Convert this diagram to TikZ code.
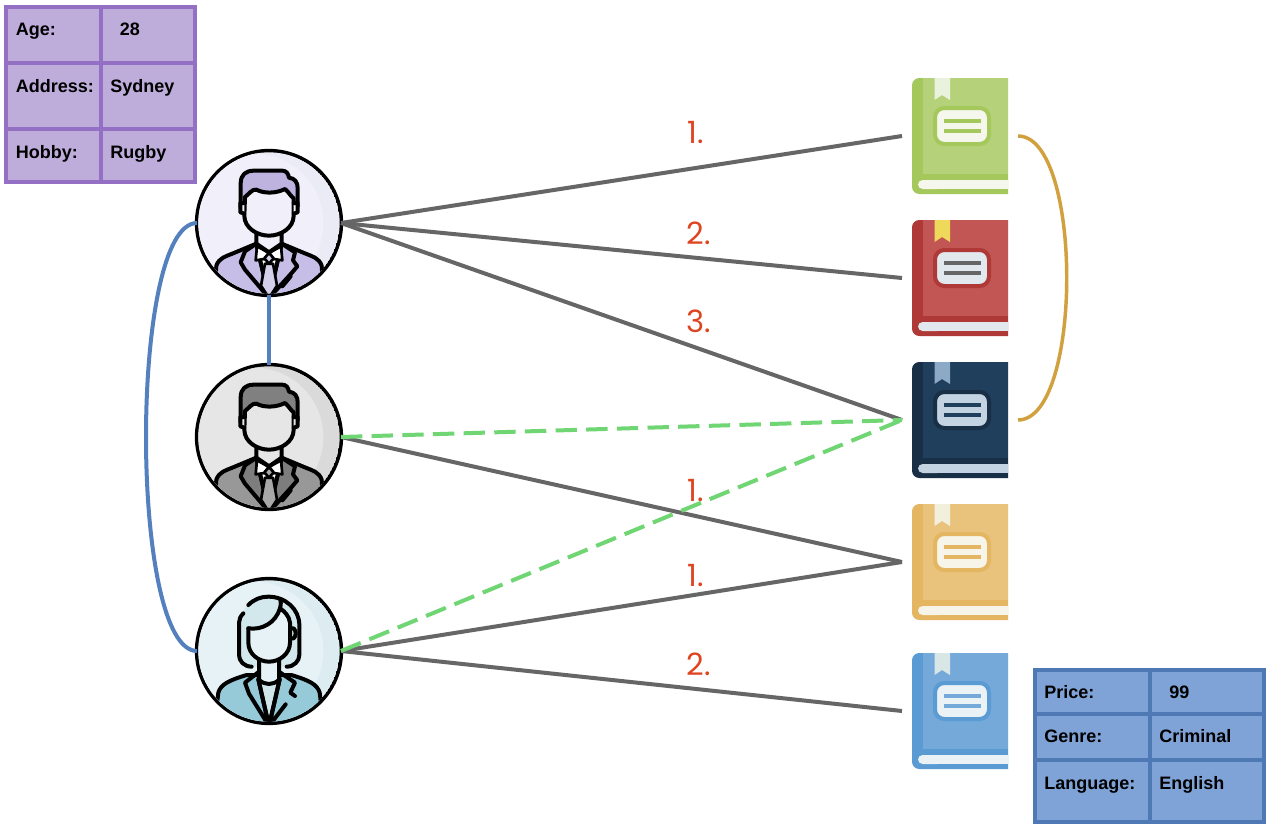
\documentclass[tikz,border=0pt]{standalone}
\usepackage{fontspec}
\setmainfont{Liberation Sans}
\newfontfamily\numfont{Poppins}
\definecolor{greyline}{HTML}{666666}
\definecolor{greenline}{HTML}{70D673}
\definecolor{blueline}{HTML}{5480BE}
\definecolor{goldline}{HTML}{D1A13F}
\definecolor{numred}{HTML}{DF4420}
\definecolor{tpstroke}{HTML}{9470C4}
\definecolor{tpfill}{HTML}{BEADDB}
\definecolor{tbstroke}{HTML}{4E79B5}
\definecolor{tbfill}{HTML}{7FA3D7}
% book colours
\definecolor{gc}{HTML}{B5D27A}\definecolor{gd}{HTML}{A5C85C}\definecolor{gr}{HTML}{E8F2DC}\definecolor{gl}{HTML}{F5F6EC}
\definecolor{rc}{HTML}{C15654}\definecolor{rd}{HTML}{AF3936}\definecolor{rr}{HTML}{EFD95A}\definecolor{rl}{HTML}{E1E9EF}
\definecolor{nc}{HTML}{1F3F5C}\definecolor{nd}{HTML}{182F45}\definecolor{nr}{HTML}{8CA9C5}\definecolor{nl}{HTML}{C3D3E2}
\definecolor{oc}{HTML}{E9C37C}\definecolor{od}{HTML}{E5B662}\definecolor{or}{HTML}{F3EFDD}\definecolor{ol}{HTML}{F7F5E9}
\definecolor{bc}{HTML}{74A9DA}\definecolor{bd}{HTML}{5A9BD3}\definecolor{br}{HTML}{D9E6E6}\definecolor{bl}{HTML}{EAF2F6}
% people colours
\definecolor{abg}{HTML}{F1F0FA}\definecolor{ash}{HTML}{EBEBF5}\definecolor{ahair}{HTML}{BEB2DE}\definecolor{ajac}{HTML}{C6BEE6}\definecolor{alap}{HTML}{C6BEE6}\definecolor{atie}{HTML}{D5D0EA}
\definecolor{cbg}{HTML}{E6E6E6}\definecolor{csh}{HTML}{DADADA}\definecolor{chair}{HTML}{808080}\definecolor{cjac}{HTML}{989898}\definecolor{clap}{HTML}{7D7D7D}\definecolor{ctie}{HTML}{A8A8A8}
\definecolor{wbg}{HTML}{E6F2F5}\definecolor{wsh}{HTML}{DCECF1}\definecolor{whair}{HTML}{D3E8EC}\definecolor{wjac}{HTML}{97CAD9}\definecolor{wblo}{HTML}{CFE5EA}\definecolor{wfri}{HTML}{D6E8EE}
\tikzset{
  person/.style={circle,draw=black,line width=3.2pt,minimum size=108pt,inner sep=0pt,outer sep=0pt},
  bookslot/.style={rectangle,minimum width=87pt,minimum height=87pt,inner sep=0pt,outer sep=0pt},
  conn/.style={draw=greyline,line width=3pt},
  rel/.style={draw=greenline,line width=3pt,dash pattern=on 16pt off 7pt},
  blink/.style={draw=blueline,line width=3pt},
  glink/.style={draw=goldline,line width=2.6pt},
  num/.style={text=numred,font=\numfont\fontsize{23}{23}\selectfont,inner sep=0pt},
  cell/.style={anchor=base west,inner sep=0pt,font=\fontsize{13.5}{15}\selectfont\bfseries},
  icon/.style={draw=black,line width=3pt,line join=round,line cap=round},
  thinicon/.style={draw=black,line width=2pt,line join=round,line cap=round},
}
\newcommand{\crescent}[2]{%
  \fill[#2] (0,0) circle (212);
  \fill[#1] (-45,0) circle (208);
}
\newcommand{\drawman}[7]{% node, bg, shade, hair, jacket, lapel, tie
\begin{scope}[shift={(#1.center)},scale=1/3]
  \begin{scope}
  \clip (0,0) circle (212);
  \crescent{#2}{#3}
  \path[fill=#5,icon] (-165,230) -- (-158,128) .. controls (-150,105) and (-130,100) .. (-110,92) -- (-38,62) -- (38,62) -- (110,92) .. controls (130,100) and (150,105) .. (158,128) -- (165,230) -- cycle;
  \path[fill=#6,icon] (-38,62) -- (-72,85) -- (-85,118) -- (-72,140) -- (0,225) -- cycle;
  \path[fill=#6,icon] (38,62) -- (78,88) -- (72,112) -- (85,130) -- (68,150) -- (0,225) -- cycle;
  \path[fill=white,icon] (-38,62) -- (38,62) -- (0,225) -- cycle;
  \path[fill=#7,thinicon] (-12,122) -- (12,122) -- (24,188) -- (0,225) -- (-24,188) -- cycle;
  \path[fill=white,thinicon] (-36,70) -- (-40,112) -- (-14,108) -- (0,90) -- (14,108) -- (40,112) -- (36,70) -- (0,90) -- cycle;
  \path[fill=#7,thinicon] (0,90) -- (14,106) -- (0,122) -- (-14,106) -- cycle;
  \draw[icon] (40,190) -- (65,160);
  \end{scope}
  \path[fill=#2,icon] (-38,20) -- (-38,62) -- (0,88) -- (38,62) -- (38,20) -- cycle;
  \path[fill=#4,icon] (-85,-45) -- (-85,-118) .. controls (-85,-145) and (-70,-157) .. (-45,-157) -- (40,-157) .. controls (52,-157) and (58,-148) .. (60,-136) .. controls (78,-134) and (86,-122) .. (86,-105) -- (86,-50) -- cycle;
  \path[fill=#2,icon] (-72,-78) .. controls (-62,-85) and (-50,-103) .. (-38,-100) .. controls (-15,-88) and (20,-88) .. (48,-102) .. controls (60,-92) and (65,-80) .. (74,-74) -- (74,-22) .. controls (74,15) and (35,38) .. (0,38) .. controls (-35,38) and (-74,15) .. (-74,-22) -- cycle;
  \path[fill=#2,icon] (-74,-60) -- (-86,-60) -- (-86,-32) -- (-74,-28);
  \path[fill=#2,icon] (74,-60) -- (86,-60) -- (86,-32) -- (74,-28);
\end{scope}}
\newcommand{\drawwoman}[7]{% node, bg, shade, hair, jacket, blouse, fringe
\begin{scope}[shift={(#1.center)},scale=1/3]
  \begin{scope}
  \clip (0,0) circle (212);
  \crescent{#2}{#3}
  \fill[#4] (-90,12) -- (-90,-88) .. controls (-80,-130) and (-45,-163) .. (-2,-163) .. controls (50,-163) and (91,-125) .. (91,-78) -- (91,12) .. controls (91,30) and (75,47) .. (53,47) -- (-52,47) .. controls (-75,47) and (-90,30) .. (-90,12) -- cycle;
  \draw[icon] (-77,-113) .. controls (-85,-105) and (-90,-95) .. (-90,-85) -- (-90,12) .. controls (-90,30) and (-75,47) .. (-52,47);
  \draw[icon] (-62,-138) .. controls (-45,-155) and (-25,-163) .. (-2,-163) .. controls (50,-163) and (91,-125) .. (91,-78) -- (91,12) .. controls (91,30) and (75,47) .. (53,47);
  \path[fill=#5,icon] (-165,230) -- (-152,125) .. controls (-145,100) and (-120,88) .. (-67,72) -- (67,72) .. controls (120,88) and (145,100) .. (152,125) -- (165,230) -- cycle;
  \path[fill=#6,icon] (-32,85) -- (32,85) -- (0,225) -- cycle;
  \draw[icon] (-30,62) -- (-72,95) -- (-60,128) -- (0,225) -- (-32,85);
  \draw[icon] (30,62) -- (78,95) -- (64,125) -- (78,135);
  \draw[icon] (32,85) -- (0,225) -- (50,160);
  \end{scope}
  \path[fill=#2,icon] (-30,25) -- (-30,87) .. controls (-10,103) and (10,103) .. (30,87) -- (30,25) -- cycle;
  \path[fill=#7,icon] (63,-68) -- (74,-68) .. controls (82,-60) and (82,-45) .. (74,-38) -- (63,-38);
  % face, open to the hair parting
  \fill[#2] (-62,-68) -- (-62,-25) .. controls (-62,10) and (-30,32) .. (0,32) .. controls (32,32) and (63,8) .. (63,-25) -- (63,-85) .. controls (60,-105) and (48,-118) .. (33,-128) .. controls (20,-85) and (-20,-62) .. (-62,-68) -- cycle;
  \draw[icon] (-62,-68) -- (-62,-25) .. controls (-62,10) and (-30,32) .. (0,32) .. controls (32,32) and (63,8) .. (63,-25) -- (63,-85) .. controls (60,-105) and (48,-118) .. (33,-128);
  \draw[icon] (-62,-68) .. controls (-20,-62) and (20,-85) .. (33,-128) .. controls (36,-140) and (36,-148) .. (34,-155);
\end{scope}}
\newcommand{\drawbook}[6]{% node, cover, dark, ribbon, label, linecol
\begin{scope}[shift={(#1.north west)}]
  \fill[#3,rounded corners=5.5pt] (106,0) -- (10,0) -- (10,116) -- (106,116);
  \fill[#2] (21,0) rectangle (106,96);
  \fill[#5,rounded corners=3.5pt] (16,102) -- (16,111) -- (40,111) -- (40,102) -- cycle;
  \fill[#5] (30,102) rectangle (106,111);
  \fill[#4] (32.5,0) -- (48,0) -- (48,22) -- (40,17) -- (32.5,22) -- cycle;
  \path[fill=#5,draw=#3,line width=3pt,rounded corners=7pt] (33,30) rectangle (87,66);
  \draw[#6,line width=3pt] (42,43) -- (79,43) (42,52.5) -- (79,52.5);
\end{scope}}
\begin{document}
\begin{tikzpicture}[x=0.75pt,y=-0.75pt]
\useasboundingbox (0,0) rectangle (1272,828);
\fill[white] (0,0) rectangle (1272,828);
% purple table
\path[fill=tpfill,draw=tpstroke,line width=2.8pt] (6,7) rectangle (195,182);
\draw[tpstroke,line width=2.8pt] (101,7) -- (101,182) (6,63) -- (195,63) (6,129) -- (195,129);
\node[cell] (pa1) at (15.5,36) {Age:};
\node[cell] (pa2) at (119.5,36) {28};
\node[cell] (pb1) at (15.5,92) {Address:};
\node[cell] (pb2) at (110,92) {Sydney};
\node[cell] (pc1) at (15.5,158) {Hobby:};
\node[cell] (pc2) at (110,158) {Rugby};
% blue table
\path[fill=tbfill,draw=tbstroke,line width=3pt] (1034.5,670) rectangle (1264,822);
\draw[tbstroke,line width=3pt] (1150,670) -- (1150,822) (1034.5,714) -- (1264,714) (1034.5,760) -- (1264,760);
\node[cell] (qa1) at (1044,698) {Price:};
\node[cell] (qa2) at (1169,698) {99};
\node[cell] (qb1) at (1044,742) {Genre:};
\node[cell] (qb2) at (1159,742) {Criminal};
\node[cell] (qc1) at (1044,789) {Language:};
\node[cell] (qc2) at (1159,789) {English};
% people
\node[person,fill=abg] (u1) at (269,223) {};
\node[person,fill=cbg] (u2) at (269,437) {};
\node[person,fill=wbg] (u3) at (269,651) {};
% books
\node[bookslot] (b1) at (960,136) {};
\node[bookslot] (b2) at (960,278) {};
\node[bookslot] (b3) at (960,420) {};
\node[bookslot] (b4) at (960,562) {};
\node[bookslot] (b5) at (960,711) {};
\drawbook{b1}{gc}{gd}{gr}{gl}{gd}
\drawbook{b2}{rc}{rd}{rr}{rl}{greyline}
\drawbook{b3}{nc}{nd}{nr}{nl}{nc}
\drawbook{b4}{oc}{od}{or}{ol}{od}
\drawbook{b5}{bc}{bd}{br}{bl}{bc}
% connectors
\draw[conn] (u1.east) -- (b1.west);
\draw[conn] (u1.east) -- (b2.west);
\draw[conn] (u1.east) -- (b3.west);
\draw[conn] (u2.east) -- (b4.west);
\draw[conn] (u3.east) -- (b4.west);
\draw[conn] (u3.east) -- (b5.west);
\draw[rel] (u2.east) -- (b3.west);
\draw[rel] (u3.east) -- (b3.west);
\draw[blink] (u1.south) -- (u2.north);
\draw[blink] (u1.west) .. controls (129,223) and (129,651) .. (u3.west);
\draw[glink] (b1.east) .. controls (1083,136) and (1083,420) .. (b3.east);
% icons
\drawman{u1}{abg}{ash}{ahair}{ajac}{alap}{atie}
\drawman{u2}{cbg}{csh}{chair}{cjac}{clap}{ctie}
\drawwoman{u3}{wbg}{wsh}{whair}{wjac}{wblo}{wfri}
% numbers
\node[num] (n1) at (696,133) {1.};
\node[num] (n2) at (699,233) {2.};
\node[num] (n3) at (699,321) {3.};
\node[num] (n4) at (696,491) {1.};
\node[num] (n5) at (696,576) {1.};
\node[num] (n6) at (699,664) {2.};
\end{tikzpicture}
\end{document}
